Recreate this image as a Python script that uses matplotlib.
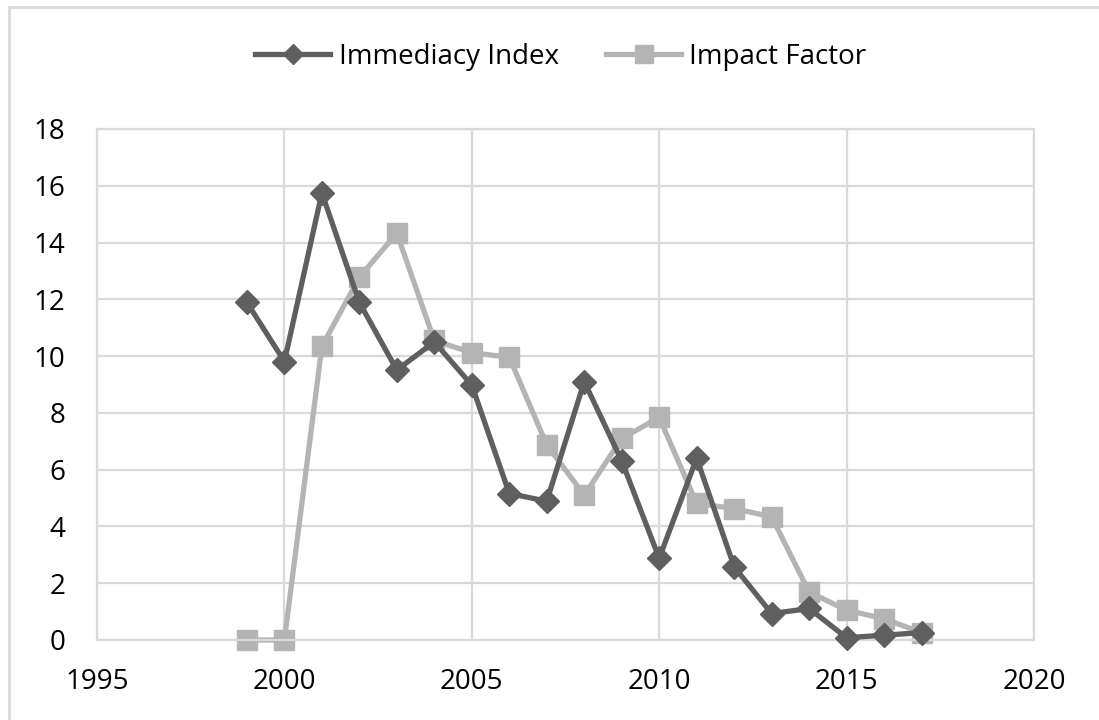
import numpy as np
from matplotlib import pyplot as plt
from matplotlib.patches import Rectangle

# data
years = list(range(1999, 2018))
immediacy = [11.89, 9.81, 15.75, 11.89, 9.51, 10.5, 8.98, 5.16, 4.89, 9.10,
             6.31, 2.88, 6.40, 2.58, 0.93, 1.11, 0.08, 0.17, 0.26]
impact = [0.0, 0.0, 10.34, 12.78, 14.33, 10.55, 10.12, 9.96, 6.87, 5.10,
          7.10, 7.84, 4.81, 4.63, 4.34, 1.69, 1.05, 0.75, 0.26]
x_ticks = [1995, 2000, 2005, 2010, 2015, 2020]
y_ticks = [0, 2, 4, 6, 8, 10, 12, 14, 16, 18]

dark = '#5f5f5f'
light = '#b4b4b4'
grid = '#d9d9d9'

plt.rcParams['font.family'] = ['Open Sans', 'DejaVu Sans']

fig = plt.figure(figsize=(10.99, 7.2), dpi=100)
ax = fig.add_axes([97/1099, 1-640/720, (1034-97)/1099, (640-129)/720])

ax.plot(years, immediacy, color=dark, lw=3.8, marker='D', ms=12,
        mec=dark, mew=1, label='Immediacy Index', zorder=3, clip_on=False)
ax.plot(years, impact, color=light, lw=3.8, marker='s', ms=15,
        mec=light, mew=1, label='Impact Factor', zorder=2, clip_on=False)

ax.set_xlim(1995, 2020)
ax.set_ylim(0, 18)
ax.set_xticks(x_ticks)
ax.set_yticks(y_ticks)
ax.tick_params(length=0, labelsize=20, colors='black')
ax.tick_params(axis='y', pad=23)
ax.tick_params(axis='x', pad=20)
ax.grid(True, color=grid, lw=1.6)
ax.set_axisbelow(True)
for s in ax.spines.values():
    s.set_color(grid)
    s.set_linewidth(1.6)

fig.legend(loc='center', bbox_to_anchor=(561/1099, 1-57/720), ncol=2, frameon=False,
           fontsize=20, handlelength=2.7, handletextpad=0.3, columnspacing=1.7,
           markerscale=0.85)

# border round the chart (only top and left show in the picture)
fig.patches.append(Rectangle((8.5/1099, -0.05), 1.2, 1.05 - 7/720,
                             transform=fig.transFigure, fill=False,
                             ec=grid, lw=2))

fig.savefig('out.png', dpi=100)
